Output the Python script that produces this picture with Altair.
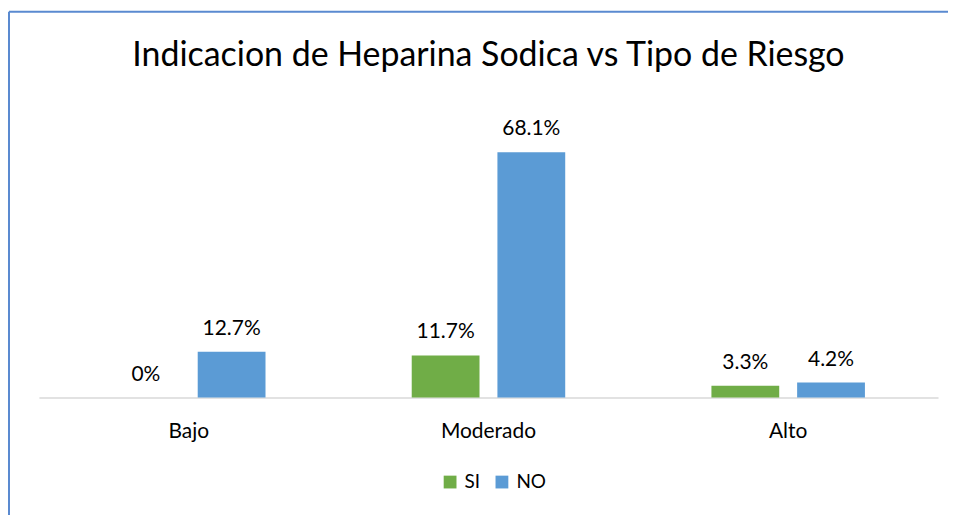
import altair as alt
import pandas as pd

categories = ["Bajo", "Moderado", "Alto"]
series = ["SI", "NO"]
si_values = [0, 11.7, 3.3]
no_values = [12.7, 68.1, 4.2]
si_labels = ["0%", "11.7%", "3.3%"]
no_labels = ["12.7%", "68.1%", "4.2%"]
colors = ["#70ad47", "#5b9bd5"]

FONT = "Lato"
W, H = 902, 289

rows = []
for i, c in enumerate(categories):
    rows.append({"Riesgo": c, "Serie": "SI", "Valor": si_values[i], "Etiqueta": si_labels[i]})
    rows.append({"Riesgo": c, "Serie": "NO", "Valor": no_values[i], "Etiqueta": no_labels[i]})
df = pd.DataFrame(rows)

x = alt.X(
    "Riesgo:N",
    sort=categories,
    scale=alt.Scale(paddingInner=0, paddingOuter=0),
    axis=alt.Axis(
        title=None, labelAngle=0, ticks=False, domainColor="#d9d9d9", domainWidth=1.5,
        labelFontSize=21, labelFont=FONT, labelColor="#000000", labelPadding=23, grid=False,
    ),
)
xoff = alt.XOffset("Serie:N", sort=series, scale=alt.Scale(paddingInner=0.209, paddingOuter=0.853))
y = alt.Y("Valor:Q", scale=alt.Scale(domain=[0, 80]), axis=None)
color = alt.Color(
    "Serie:N",
    sort=series,
    scale=alt.Scale(domain=series, range=colors),
    legend=alt.Legend(
        title=None, orient="none", direction="horizontal", legendX=403, legendY=364,
        symbolType="square", symbolSize=165, symbolStrokeWidth=0, labelFontSize=19,
        labelFont=FONT, labelColor="#000000", columnPadding=12, labelOffset=5,
    ),
)

base = alt.Chart(df)
bars = base.mark_bar().encode(x=x, xOffset=xoff, y=y, color=color)
texts = base.mark_text(baseline="bottom", dy=-13, fontSize=21, font=FONT, color="#000000").encode(
    x=x, xOffset=xoff, y=y, text="Etiqueta:N"
)

frame_df = pd.DataFrame({"k": [0]})
frame_left = alt.Chart(frame_df).mark_rule(color="#5a8ad0", strokeWidth=2).encode(
    x=alt.value(-30), y=alt.value(-98), y2=alt.value(H + 120)
)
frame_top = alt.Chart(frame_df).mark_rule(color="#5a8ad0", strokeWidth=2).encode(
    x=alt.value(-30), x2=alt.value(W + 10), y=alt.value(-98)
)

chart = (
    alt.layer(frame_left, frame_top, bars, texts)
    .properties(
        width=W,
        height=H,
        background="white",
        padding={"left": 0, "top": 2, "right": 0, "bottom": 0},
        title=alt.TitleParams(
            "Indicacion de Heparina Sodica vs Tipo de Riesgo",
            fontSize=34, font=FONT, fontWeight="normal", color="#000000", offset=-62, anchor="middle",
        ),
    )
    .configure_view(stroke="transparent", strokeWidth=0)
)

chart.save("out.html", embed_options={"renderer": "svg", "actions": False})
